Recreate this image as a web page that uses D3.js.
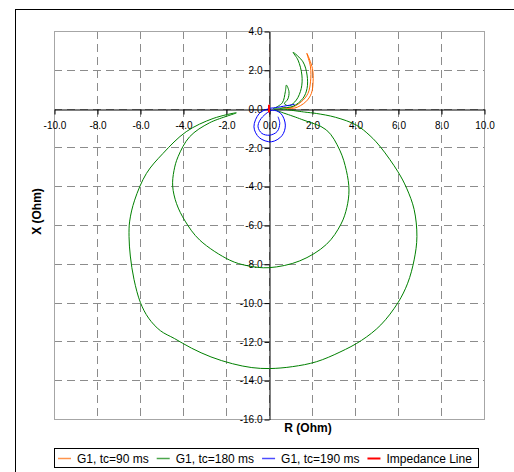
<!DOCTYPE html>
<html>
<head>
<meta charset="utf-8">
<script src="https://cdn.jsdelivr.net/npm/d3@7"></script>
<style>
  html, body { margin: 0; padding: 0; background: #fff; }
  svg { display: block; font-family: "Liberation Sans", Arial, sans-serif; }
</style>
</head>
<body>
<svg id="chart" width="514" height="472"></svg>
<script>
// ---- Data (R, X) in Ohm ----
const seriesNames = ["G1, tc=90 ms", "G1, tc=180 ms", "G1, tc=190 ms", "Impedance Line"];
const seriesColors = ["#FF6600", "#008000", "#0000FF", "#FF0000"];

const tc90 = [
  [0.6, 0.08], [0.96, 0.02], [1.5, 0.35], [1.81, 0.78], [1.93, 1.38], [1.93, 2.15], [1.76, 2.85],
  [2.02, 2.07], [2.05, 1.38], [1.97, 0.78], [1.71, 0.35], [1.2, 0.03], [0.7, 0.05]
];

const tc180 = [
  [0.3, 0.05], [0.62, 0.3], [0.76, 0.87], [0.81, 1.21], [0.93, 0.87], [0.88, 0.5], [0.72, 0.25],
  [0.95, 0.15], [1.27, 0.44], [1.5, 1.04], [1.53, 1.73], [1.35, 2.5], [1.12, 2.9],
  [1.58, 2.41], [1.77, 1.73], [1.77, 1.04], [1.58, 0.53], [1.12, 0.12], [0.5, 0.02], [0.2, 0.0],
  // inner loop
  [1.5, -0.55], [2.67, -1.1], [3.29, -2.14], [3.6, -3.2], [3.72, -4.2], [3.62, -5.1], [3.35, -5.95],
  [2.67, -7.0], [1.43, -7.85], [0.0, -8.2], [-1.0, -8.1], [-1.83, -7.81], [-3.22, -6.78],
  [-3.9, -5.8], [-4.3, -4.9], [-4.48, -4.0], [-4.42, -3.2], [-4.23, -2.48], [-3.69, -1.45],
  [-2.76, -0.73], [-1.52, -0.22],
  // outer loop
  [-2.6, -0.51], [-3.85, -1.19], [-4.93, -2.31], [-5.7, -3.34], [-6.25, -4.72], [-6.48, -5.8],
  [-6.51, -6.6], [-6.45, -7.6], [-6.28, -8.8], [-5.98, -10.0], [-5.6, -10.8], [-5.05, -11.45],
  [-4.4, -11.85], [-3.6, -12.35], [-2.7, -12.8], [-1.7, -13.15], [-0.8, -13.35], [0.03, -13.4],
  [1.1, -13.3], [2.2, -13.05], [3.3, -12.55], [4.3, -11.95], [5.2, -11.15], [6.0, -10.0],
  [6.45, -9.0], [6.75, -7.8], [6.88, -6.6], [6.75, -5.2], [6.4, -4.1], [6.0, -3.26], [5.2, -2.0],
  [4.7, -1.4], [4.06, -0.85], [3.1, -0.45], [2.2, -0.25], [1.66, -0.18], [0.5, 0.0]
];

const tc190 = [
  [1.19, 0.22], [0.3, 0.05], [0.0, 0.0], [-0.45, -0.25], [-0.7, -0.94], [-0.45, -1.5],
  [0.11, -1.71], [0.6, -1.4], [0.76, -0.85], [0.55, -0.25], [0.15, -0.08], [-0.15, -0.27],
  [-0.42, -0.6], [-0.51, -0.94], [-0.33, -1.28], [0.03, -1.37], [0.38, -1.18], [0.5, -0.76],
  [0.42, -0.42]
];

const impedanceLine = [[0.0, -0.2], [0.0, 0.2]];

const allSeries = [tc90, tc180, tc190, impedanceLine];

const xTicks = [-10, -8, -6, -4, -2, 0, 2, 4, 6, 8, 10];
const yTicks = [4, 2, 0, -2, -4, -6, -8, -10, -12, -14, -16];

// ---- Layout ----
const svg = d3.select("#chart");
const plot = { left: 54, right: 484, top: 31, bottom: 419 };

// outer chart border
svg.append("rect")
  .attr("x", 15.5).attr("y", 9.5).attr("width", 520).attr("height", 480)
  .attr("fill", "none").attr("stroke", "#000").attr("stroke-width", 1);

const x = d3.scaleLinear().domain([-10, 10]).range([plot.left, plot.right]);
const y = d3.scaleLinear().domain([-16, 4]).range([plot.bottom, plot.top]);

// grid
const grid = svg.append("g");
grid.selectAll("line.v").data(xTicks.slice(1, -1)).enter().append("line")
  .attr("x1", d => Math.round(x(d)) + 0.5).attr("x2", d => Math.round(x(d)) + 0.5)
  .attr("y1", plot.top).attr("y2", plot.bottom)
  .attr("stroke", "#8c8c8c").attr("stroke-dasharray", "8,5");
grid.selectAll("line.h").data(yTicks.slice(1, -1)).enter().append("line")
  .attr("y1", d => Math.round(y(d)) + 0.5).attr("y2", d => Math.round(y(d)) + 0.5)
  .attr("x1", plot.left).attr("x2", plot.right)
  .attr("stroke", "#8c8c8c").attr("stroke-dasharray", "8,5");

// plot border
svg.append("rect")
  .attr("x", plot.left + 0.5).attr("y", plot.top + 0.5)
  .attr("width", plot.right - plot.left).attr("height", plot.bottom - plot.top)
  .attr("fill", "none").attr("stroke", "#a6a6a6").attr("stroke-width", 1);

const fmt = d => d.toFixed(1);

// x axis at X = 0
const xAxis = svg.append("g")
  .attr("transform", `translate(0.5,${Math.round(y(0)) + 0.5})`)
  .call(d3.axisBottom(x).tickValues(xTicks).tickFormat(fmt).tickSize(5).tickPadding(7).tickSizeOuter(0));
// y axis at R = 0
const yAxis = svg.append("g")
  .attr("transform", `translate(${Math.round(x(0)) + 0.5},0.5)`)
  .call(d3.axisLeft(y).tickValues(yTicks).tickFormat(fmt).tickSize(5).tickPadding(2).tickSizeOuter(0));

[xAxis, yAxis].forEach(g => {
  g.selectAll("path.domain").attr("stroke", "#000");
  g.selectAll(".tick line").attr("stroke", "#000");
  g.selectAll(".tick text").attr("fill", "#000")
    .style("font-family", "'Liberation Sans', Arial, sans-serif").style("font-size", "10px");
});

// clip
svg.append("clipPath").attr("id", "clip").append("rect")
  .attr("x", plot.left).attr("y", plot.top)
  .attr("width", plot.right - plot.left).attr("height", plot.bottom - plot.top);

const line = d3.line().x(d => x(d[0])).y(d => y(d[1])).curve(d3.curveCatmullRom.alpha(0.5));
const straight = d3.line().x(d => x(d[0])).y(d => y(d[1]));

const lines = svg.append("g").attr("clip-path", "url(#clip)");
allSeries.forEach((s, i) => {
  lines.append("path")
    .attr("d", i === 3 ? straight(s) : line(s))
    .attr("fill", "none")
    .attr("stroke", seriesColors[i])
    .attr("stroke-width", i === 3 ? 2 : 1)
    .attr("stroke-linejoin", "round");
});

// axis titles
svg.append("text")
  .attr("x", 308).attr("y", 432)
  .attr("text-anchor", "middle")
  .style("font-size", "12px").style("font-weight", "bold")
  .text("R (Ohm)");
svg.append("text")
  .attr("transform", "translate(41,211.5) rotate(-90)")
  .attr("text-anchor", "middle")
  .style("font-size", "12px").style("font-weight", "bold")
  .text("X (Ohm)");

// legend
const lg = svg.append("g");
lg.append("rect")
  .attr("x", 54.5).attr("y", 448.5).attr("width", 424).attr("height", 19)
  .attr("fill", "#fff").attr("stroke", "#000").attr("stroke-width", 1);
let cx = 58;
seriesNames.forEach((name, i) => {
  lg.append("line")
    .attr("x1", cx).attr("x2", cx + 13)
    .attr("y1", 458.5).attr("y2", 458.5)
    .attr("stroke", seriesColors[i]).attr("stroke-width", i === 3 ? 2 : 1.5)
    .attr("stroke-opacity", i === 3 ? 1 : 0.7);
  const t = lg.append("text")
    .attr("x", cx + 19).attr("y", 462.5)
    .style("font-size", "12px")
    .text(name);
  cx = cx + 19 + t.node().getComputedTextLength() + 8;
});
</script>
</body>
</html>
